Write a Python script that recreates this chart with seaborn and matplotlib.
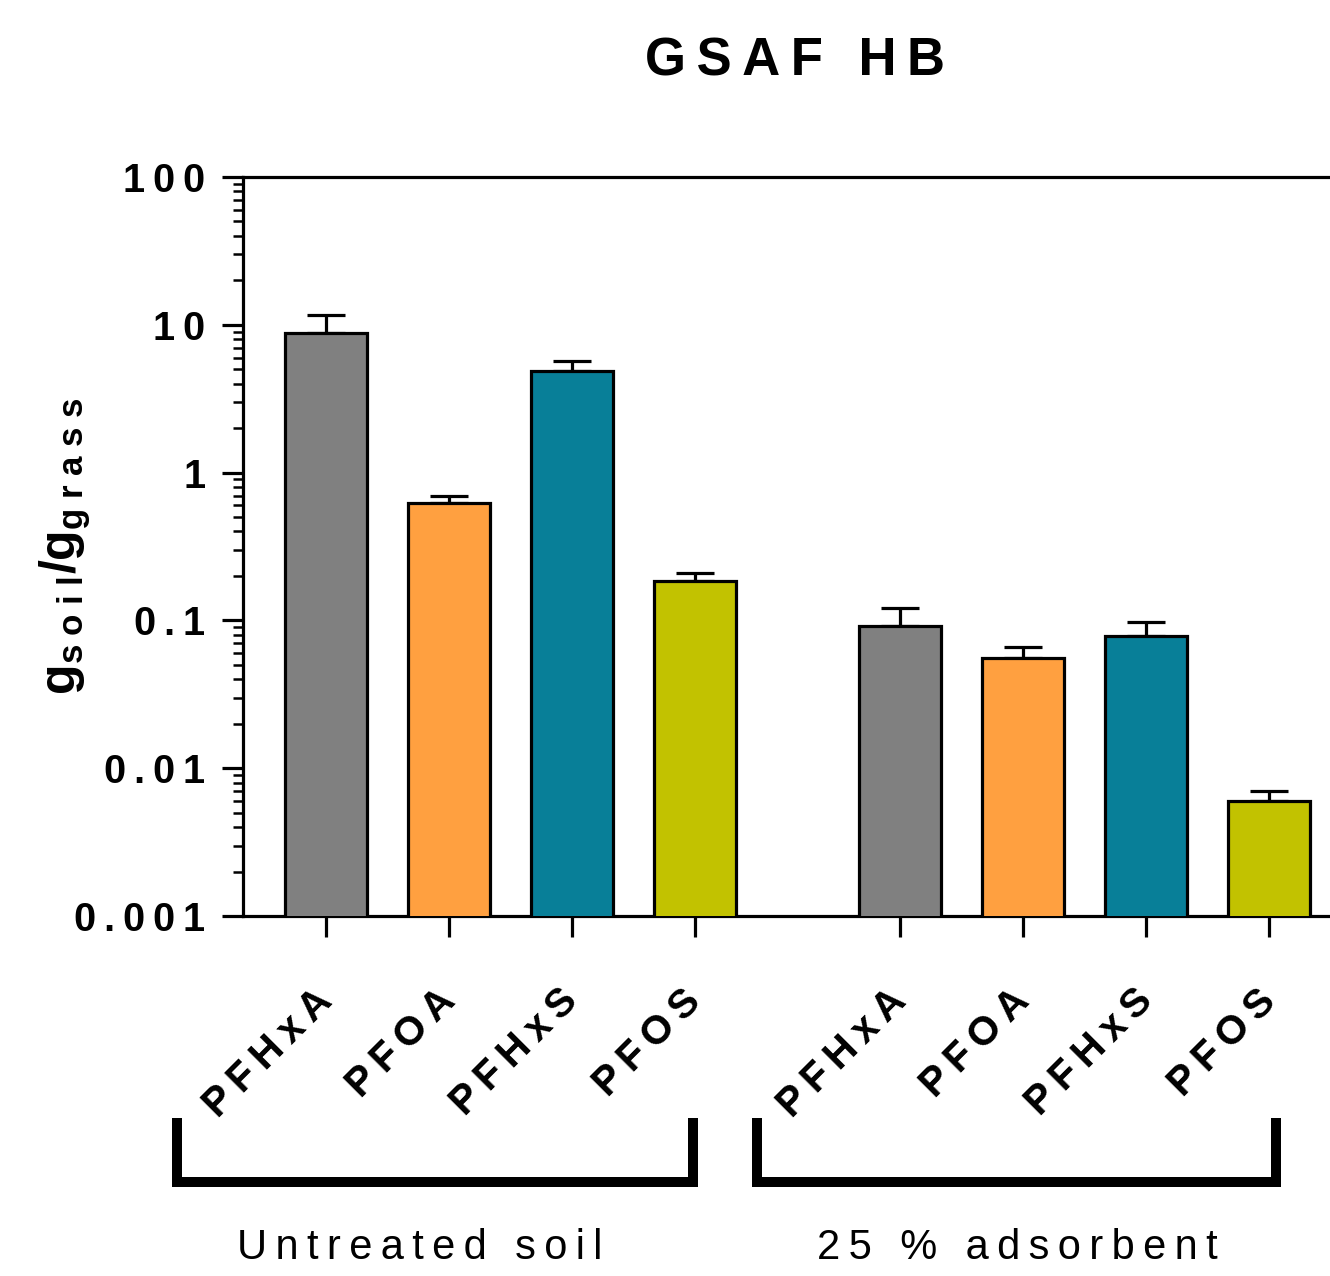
import matplotlib
matplotlib.use("Agg")
import matplotlib.pyplot as plt
import matplotlib.ticker as mticker
from matplotlib.lines import Line2D
import numpy as np
import pandas as pd
import seaborn as sns

# values (log axis)
compounds = ["PFHxA", "PFOA", "PFHxS", "PFOS"]
groups = ["Untreated soil", "25 % adsorbent"]
untreated_mean = [8.8, 0.62, 4.9, 0.186]
untreated_upper = [11.7, 0.69, 5.7, 0.208]
adsorbent_mean = [0.091, 0.0553, 0.079, 0.0060]
adsorbent_upper = [0.121, 0.0658, 0.098, 0.0070]
ytick_vals = [0.001, 0.01, 0.1, 1, 10, 100]
ytick_text = ["0.001", "0.01", "0.1", "1", "10", "100"]

colors = {"PFHxA": "#808080", "PFOA": "#FFA040", "PFHxS": "#087F98", "PFOS": "#C2C200"}

sns.set_style("ticks")
plt.rcParams["font.family"] = ["Liberation Sans", "DejaVu Sans"]
plt.rcParams["mathtext.fontset"] = "custom"
plt.rcParams["mathtext.bf"] = "Liberation Sans:bold"
plt.rcParams["mathtext.rm"] = "Liberation Sans"
for key in ["text.color", "axes.labelcolor", "xtick.color", "ytick.color", "axes.edgecolor"]:
    plt.rcParams[key] = "black"


def spaced(s):
    return "\u2009".join(s)


group_step = len(compounds) + 0.667
x_pos = [i + g * group_step for g in range(len(groups)) for i in range(len(compounds))]
df = pd.DataFrame({
    "x": x_pos,
    "value": untreated_mean + adsorbent_mean,
    "upper": untreated_upper + adsorbent_upper,
    "compound": compounds * 2,
})

fig = plt.figure(figsize=(13.3, 12.76), dpi=100)
ax = fig.add_axes([0.1827, 0.2821, 0.8173, 0.5792])
ax.set_yscale("log")

sns.barplot(data=df, x="x", y="value", hue="compound", palette=colors, saturation=1,
            native_scale=True, dodge=False, width=0.667, errorbar=None,
            edgecolor="black", linewidth=2.3, legend=False, ax=ax, zorder=3)

err_up = df["upper"] - df["value"]
ax.errorbar(df["x"], df["value"], yerr=[np.zeros(len(df)), err_up], fmt="none",
            ecolor="black", elinewidth=2.3, capsize=14, capthick=2.3, zorder=2)

ax.set_xlim(-0.675, 8.16)
ax.set_ylim(0.001, 100)

ax.spines["right"].set_visible(False)
for side in ["left", "top", "bottom"]:
    ax.spines[side].set_linewidth(2.3)

ax.set_yticks(ytick_vals)
ax.yaxis.set_major_formatter(mticker.FixedFormatter([spaced(t) for t in ytick_text]))
ax.yaxis.set_minor_locator(mticker.LogLocator(base=10, subs=np.arange(2, 10), numticks=20))
ax.yaxis.set_minor_formatter(mticker.NullFormatter())
ax.tick_params(axis="y", which="major", length=15, width=2.3, pad=12, labelsize=28.5)
ax.tick_params(axis="y", which="minor", length=7.5, width=1.8)
for lab in ax.get_yticklabels():
    lab.set_fontweight("bold")

ax.set_xticks(x_pos)
ax.set_xticklabels([spaced(c) for c in compounds * 2], rotation=45, ha="right",
                   va="center", rotation_mode="anchor", fontsize=29, fontweight="bold")
ax.tick_params(axis="x", which="major", length=15, width=2.3, pad=42)
ax.set_xlabel("")
ax.set_ylabel(r"$\mathbf{g}_{\mathbf{s\;o\;i\;l}}\mathbf{/g}_{\mathbf{g\;r\;a\;s\;s}}$",
              fontsize=36)
ax.yaxis.set_label_coords(-0.138, 0.5)

fig.text(795 / 1330, 1 - 62 / 1276, spaced("GSAF HB"), ha="center", va="center",
         fontsize=38, fontweight="bold")

# group brackets below the tick labels
W, H = 1330.0, 1276.0
brackets = [(177, 693), (757, 1276)]
label_x = [420, 1017]
for (x0, x1), lx, name in zip(brackets, label_x, groups):
    xs = [x0 / W, x0 / W, x1 / W, x1 / W]
    ys = [1 - 1118 / H, 1 - 1182 / H, 1 - 1182 / H, 1 - 1118 / H]
    fig.add_artist(Line2D(xs, ys, color="black", lw=7.2, solid_joinstyle="miter",
                          solid_capstyle="butt"))
    fig.text(lx / W, 1 - 1248 / H, spaced(name), ha="center", va="center", fontsize=30)

fig.savefig("out.png", dpi=100)
